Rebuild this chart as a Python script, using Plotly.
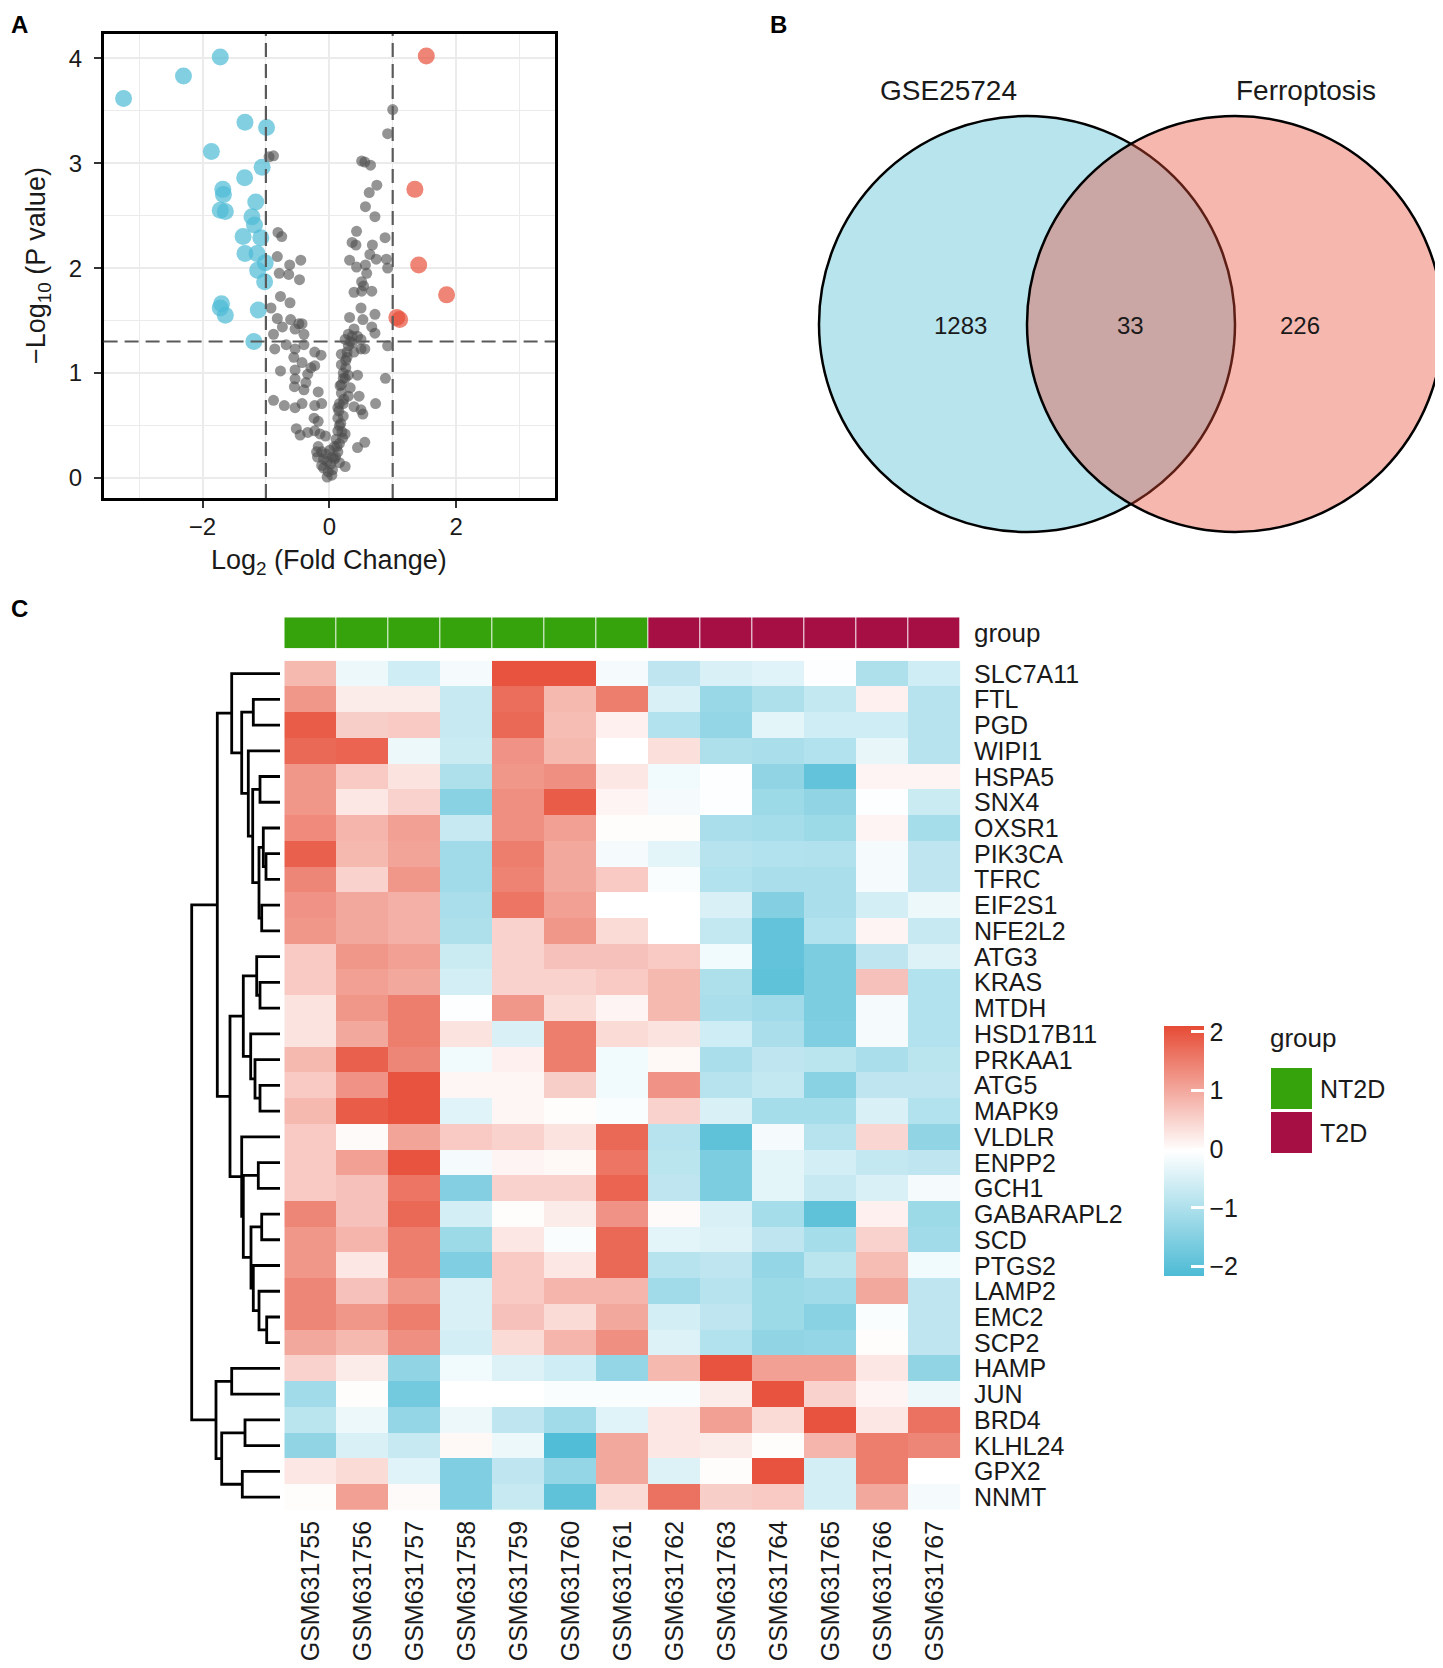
import plotly.graph_objects as go

# the page body keeps an 8px margin, so the figure is drawn 8px in from the corner
OFF = 8
FIG_W, FIG_H = 1443 - OFF, 1668 - OFF
FONT = "Liberation Sans, Arial, sans-serif"
INK = "#1a1a1a"


def fx(px):
    # screen pixel column -> paper x
    return (px - OFF) / FIG_W


def fy(py):
    # screen pixel row (from top) -> paper y
    return 1 - (py - OFF) / FIG_H


# ---------------- A: volcano data ----------------
down_x = [-3.245, -2.30, -1.72, -1.33, -0.99, -1.86, -1.06, -1.335, -1.68, -1.67, -1.72, -1.64, -1.16,
          -1.22, -1.18, -1.36, -1.08, -1.33, -1.14, -1.01, -1.13, -1.02, -1.70, -1.72, -1.64, -1.12, -1.19]
down_y = [3.615, 3.83, 4.01, 3.39, 3.34, 3.11, 2.96, 2.86, 2.75, 2.70, 2.55, 2.54, 2.63,
          2.49, 2.41, 2.30, 2.29, 2.14, 2.14, 2.05, 1.98, 1.87, 1.66, 1.62, 1.55, 1.60, 1.30]
up_x = [1.53, 1.35, 1.41, 1.85, 1.065, 1.11]
up_y = [4.02, 2.75, 2.03, 1.745, 1.53, 1.51]
ns_x = [1.0, 0.92, -0.95, -0.88, 0.51, 0.56, 0.65, 0.75, 0.63, 0.57, 0.72, -0.81, -0.75, 0.43, 0.36,
        0.42, 0.68, 0.88, 0.64, 0.74, 0.90, -0.82, -0.45, -0.625, 0.32, 0.43, 0.57, 0.92, -0.79, -0.64,
        -0.47, 0.59, 0.51, 0.54, 0.39, 0.51, 0.67, -0.77, -0.62, -0.92, 0.50, -0.82, -0.61, -0.48, -0.43,
        -0.74, -0.54, -0.88, -0.40, 0.32, 0.53, 0.72, 0.67, 0.72, 0.39, 0.30, 0.445, 0.25, 0.36, 0.50,
        0.92, -0.86, -0.68, -0.54, -0.40, -0.23, -0.13, 0.19, 0.28, 0.39, 0.50, 0.56, -0.56, -0.43, -0.29,
        -0.23, -0.77, -0.54, -0.34, 0.19, 0.26, 0.22, 0.30, 0.22, 0.19, 0.445, 0.885, -0.54, -0.37, -0.55,
        -0.40, -0.175, 0.33, -0.88, -0.71, -0.54, -0.43, -0.23, -0.12, 0.16, 0.30, 0.47, 0.73, 0.39, 0.50,
        0.53, 0.15, 0.135, 0.16, 0.22, -0.24, -0.175, -0.52, -0.46, -0.34, -0.23, -0.146, -0.06, 0.135, 0.25,
        0.107, 0.08, 0.135, 0.56, 0.445, -0.175, -0.12, -0.186, -0.09, -0.034, 0.02, 0.08, 0.16, 0.25, -0.09,
        -0.017, 0.04, -0.034, 0.05, -0.05, 0.006, 0.16, 0.21, 0.135, 0.22, 0.19, 0.25, 0.28, 0.30, 0.18,
        0.20, 0.12, 0.10, 0.23, 0.17, 0.26, 0.33, 0.36, -0.20, -0.12, 0.05]
ns_y = [3.51, 3.28, 3.06, 3.07, 3.02, 3.01, 2.98, 2.79, 2.72, 2.585, 2.49, 2.34, 2.30, 2.35, 2.245,
        2.22, 2.22, 2.29, 2.13, 2.085, 2.085, 2.11, 2.075, 2.03, 2.075, 2.01, 2.03, 2.00, 1.95, 1.94,
        1.89, 1.95, 1.87, 1.83, 1.77, 1.78, 1.78, 1.73, 1.67, 1.62, 1.62, 1.52, 1.51, 1.47, 1.47,
        1.44, 1.42, 1.37, 1.37, 1.53, 1.51, 1.56, 1.44, 1.38, 1.42, 1.37, 1.35, 1.32, 1.29, 1.32,
        1.26, 1.23, 1.27, 1.23, 1.27, 1.20, 1.17, 1.18, 1.20, 1.20, 1.23, 1.23, 1.15, 1.10, 1.05,
        1.07, 1.02, 1.03, 0.99, 1.08, 1.05, 1.00, 0.98, 0.95, 0.89, 0.98, 0.95, 0.945, 0.91, 0.87,
        0.84, 0.82, 0.86, 0.74, 0.69, 0.67, 0.71, 0.69, 0.71, 0.71, 0.78, 0.78, 0.71, 0.68, 0.65,
        0.61, 0.64, 0.57, 0.50, 0.59, 0.57, 0.54, 0.47, 0.41, 0.435, 0.45, 0.42, 0.40, 0.45, 0.42,
        0.37, 0.30, 0.25, 0.34, 0.29, 0.30, 0.25, 0.20, 0.18, 0.16, 0.13, 0.18, 0.146, 0.11, 0.095,
        0.06, 0.027, 0.01, 0.078, 0.23, 0.265, 0.33, 0.38, 0.67, 0.71, 0.81, 0.95, 1.15, 1.26, 0.52,
        0.44, 0.30, 0.20, 0.75, 0.88, 1.12, 1.30, 1.35, 0.25, 0.12, 0.20]
fc_cut = 1.0
p_cut = 1.301  # -log10(0.05)

# ---------------- B: venn data ----------------
venn_sets = ["GSE25724", "Ferroptosis"]
venn_counts = [1283, 33, 226]  # only left, shared, only right

# ---------------- C: heatmap data ----------------
samples = ["GSM631755", "GSM631756", "GSM631757", "GSM631758", "GSM631759", "GSM631760", "GSM631761",
           "GSM631762", "GSM631763", "GSM631764", "GSM631765", "GSM631766", "GSM631767"]
sample_group = ["NT2D"] * 7 + ["T2D"] * 6
genes = ["SLC7A11", "FTL", "PGD", "WIPI1", "HSPA5", "SNX4", "OXSR1", "PIK3CA", "TFRC", "EIF2S1",
         "NFE2L2", "ATG3", "KRAS", "MTDH", "HSD17B11", "PRKAA1", "ATG5", "MAPK9", "VLDLR", "ENPP2",
         "GCH1", "GABARAPL2", "SCD", "PTGS2", "LAMP2", "EMC2", "SCP2", "HAMP", "JUN", "BRD4",
         "KLHL24", "GPX2", "NNMT"]
expr_values = [
    [0.8, -0.25, -0.6, -0.15, 2.0, 2.0, -0.15, -0.8, -0.5, -0.4, -0.05, -1.0, -0.6],
    [1.2, 0.2, 0.2, -0.7, 1.7, 0.8, 1.5, -0.5, -1.25, -1.0, -0.75, 0.15, -0.9],
    [1.9, 0.55, 0.6, -0.7, 1.75, 0.75, 0.15, -0.95, -1.3, -0.35, -0.6, -0.6, -0.9],
    [1.75, 1.8, -0.25, -0.65, 1.25, 0.8, -0.03, 0.35, -1.0, -1.05, -0.95, -0.3, -0.9],
    [1.2, 0.6, 0.3, -1.0, 1.2, 1.3, 0.25, -0.2, -0.05, -1.35, -1.9, 0.1, 0.1],
    [1.2, 0.25, 0.5, -1.45, 1.3, 1.9, 0.1, -0.15, -0.05, -1.2, -1.35, -0.05, -0.65],
    [1.35, 0.85, 1.1, -0.7, 1.3, 1.1, 0.0, 0.0, -1.05, -1.1, -1.2, 0.1, -1.1],
    [1.85, 0.8, 1.05, -1.15, 1.5, 1.0, -0.15, -0.35, -0.9, -0.95, -0.97, -0.15, -0.8],
    [1.4, 0.5, 1.2, -1.15, 1.45, 1.0, 0.6, -0.1, -0.95, -1.05, -1.05, -0.15, -0.8],
    [1.25, 1.0, 0.9, -1.05, 1.6, 1.1, -0.03, -0.03, -0.5, -1.5, -1.05, -0.55, -0.25],
    [1.2, 1.0, 0.9, -1.0, 0.5, 1.2, 0.4, -0.03, -0.75, -1.9, -0.95, 0.1, -0.7],
    [0.6, 1.2, 1.1, -0.65, 0.5, 0.7, 0.7, 0.6, -0.2, -1.9, -1.6, -0.8, -0.45],
    [0.6, 1.1, 1.0, -0.55, 0.5, 0.5, 0.6, 0.8, -1.0, -1.95, -1.6, 0.7, -0.95],
    [0.3, 1.2, 1.5, -0.05, 1.2, 0.4, 0.1, 0.8, -1.05, -1.15, -1.6, -0.15, -0.95],
    [0.3, 1.0, 1.5, 0.3, -0.5, 1.5, 0.4, 0.3, -0.6, -1.05, -1.55, -0.15, -0.95],
    [0.8, 1.85, 1.4, -0.2, 0.15, 1.5, -0.2, 0.05, -1.05, -0.8, -0.85, -1.05, -0.85],
    [0.6, 1.25, 2.0, 0.08, 0.08, 0.55, -0.2, 1.25, -0.9, -0.75, -1.45, -0.8, -0.8],
    [0.8, 1.9, 2.0, -0.4, 0.08, 0.0, -0.1, 0.5, -0.5, -1.1, -1.1, -0.5, -0.95],
    [0.6, 0.03, 1.05, 0.6, 0.5, 0.3, 1.75, -0.9, -1.95, -0.15, -0.9, 0.45, -1.35],
    [0.6, 1.1, 2.0, -0.15, 0.1, 0.05, 1.6, -0.85, -1.6, -0.35, -0.55, -0.75, -0.8],
    [0.6, 0.7, 1.6, -1.5, 0.5, 0.5, 1.8, -0.8, -1.6, -0.35, -0.7, -0.5, -0.15],
    [1.4, 0.7, 1.75, -0.55, 0.0, 0.2, 1.25, 0.03, -0.5, -1.1, -1.95, 0.15, -1.2],
    [1.2, 0.85, 1.5, -1.2, 0.25, -0.1, 1.75, -0.35, -0.45, -0.8, -1.1, 0.5, -1.15],
    [1.2, 0.25, 1.5, -1.55, 0.6, 0.25, 1.75, -0.9, -0.8, -1.3, -0.85, 0.75, -0.2],
    [1.4, 0.7, 1.2, -0.5, 0.6, 0.85, 0.85, -1.15, -0.9, -1.2, -1.15, 1.0, -0.8],
    [1.4, 1.2, 1.5, -0.5, 0.7, 0.4, 1.0, -0.55, -0.8, -1.2, -1.45, -0.1, -0.8],
    [1.0, 0.8, 1.3, -0.55, 0.4, 0.85, 1.3, -0.45, -0.95, -1.35, -1.3, 0.0, -0.8],
    [0.5, 0.2, -1.35, -0.2, -0.45, -0.6, -1.3, 0.8, 2.0, 1.1, 1.1, 0.25, -1.35],
    [-1.15, 0.0, -1.7, -0.03, -0.03, -0.1, -0.1, -0.1, 0.2, 2.0, 0.5, 0.1, -0.25],
    [-0.85, -0.25, -1.3, -0.25, -0.8, -1.15, -0.4, 0.25, 1.1, 0.4, 2.0, 0.25, 1.65],
    [-1.35, -0.5, -0.7, 0.05, -0.25, -2.1, 1.0, 0.25, 0.2, 0.0, 0.85, 1.5, 1.4],
    [0.25, 0.4, -0.4, -1.55, -0.8, -1.3, 1.0, -0.45, 0.0, 2.0, -0.55, 1.5, -0.03],
    [0.0, 1.1, 0.03, -1.55, -0.7, -1.95, 0.4, 1.65, 0.55, 0.6, -0.55, 1.0, -0.15],
]
z_lo, z_hi = -2.16, 2.1
colorbar_ticks = [-2, -1, 0, 1, 2]

# row clustering: (node, left child, right child, merge height)
row_merges = [
    ("FP", "FTL", "PGD", 26.7), ("HS", "HSPA5", "SNX4", 20.0), ("PT", "PIK3CA", "TFRC", 14.0),
    ("OPT", "OXSR1", "PT", 16.7), ("EN", "EIF2S1", "NFE2L2", 18.3), ("X3", "OPT", "EN", 21.0),
    ("X2", "HS", "X3", 27.3), ("X1", "WIPI1", "X2", 31.7), ("X0", "FP", "X1", 38.3),
    ("A", "SLC7A11", "X0", 48.3), ("KM", "KRAS", "MTDH", 20.0), ("AKM", "ATG3", "KM", 23.3),
    ("AM", "ATG5", "MAPK9", 20.0), ("PAM", "PRKAA1", "AM", 25.0), ("HPAM", "HSD17B11", "PAM", 29.3),
    ("K", "AKM", "HPAM", 36.7), ("EG", "ENPP2", "GCH1", 21.7), ("GS", "GABARAPL2", "SCD", 18.3),
    ("ES", "EMC2", "SCP2", 13.3), ("H3", "LAMP2", "ES", 21.0), ("H2", "PTGS2", "H3", 26.7),
    ("H", "GS", "H2", 29.0), ("L2", "EG", "H", 36.7), ("L", "VLDLR", "L2", 38.3),
    ("M", "K", "L", 50.0), ("T", "A", "M", 62.7), ("HJ", "HAMP", "JUN", 48.3),
    ("BK", "BRD4", "KLHL24", 35.0), ("GN", "GPX2", "NNMT", 37.7), ("P", "BK", "GN", 58.3),
    ("Q", "HJ", "P", 64.0), ("ROOT", "T", "Q", 88.3),
]

group_colors = {"NT2D": "#36A30C", "T2D": "#A50F44"}
heat_scale = [[0, "#4DBBD5"], [0.5, "#FFFFFF"], [1, "#E64B35"]]

fig = go.Figure()

# ---- volcano points
for xs, ys, col, size, alpha in [(ns_x, ns_y, "#4D4D4D", 11, 0.6), (down_x, down_y, "#4DBBD5", 17, 0.7),
                                 (up_x, up_y, "#E64B35", 17, 0.68)]:
    fig.add_trace(go.Scatter(
        x=xs, y=ys, mode="markers", xaxis="x", yaxis="y", hoverinfo="skip",
        marker=dict(size=size, color=col, opacity=alpha, line=dict(width=0)),
    ))

# ---- heatmap body
n_rows, n_cols = len(genes), len(samples)
fig.add_trace(go.Heatmap(
    z=expr_values, x=list(range(n_cols)), y=list(range(n_rows)),
    xaxis="x3", yaxis="y3", colorscale=heat_scale, zmin=z_lo, zmax=z_hi,
    hoverinfo="skip",
    colorbar=dict(
        x=fx(1164), xanchor="left", y=fy(1151), yanchor="middle",
        len=250, lenmode="pixels", thickness=40, thicknessmode="pixels",
        outlinewidth=0, xpad=0, ypad=0,
        tickvals=colorbar_ticks, ticktext=[str(t).replace("-", "\u2212") for t in colorbar_ticks],
        ticks="inside", ticklen=13, tickwidth=2.5, tickcolor="white",
        tickfont=dict(size=25, family=FONT, color=INK),
    ),
))

# ---- group annotation bar
group_codes = [0 if g == "NT2D" else 1 for g in sample_group]
fig.add_trace(go.Heatmap(
    z=[group_codes], x=list(range(n_cols)), y=[0], xaxis="x3", yaxis="y4",
    colorscale=[[0, group_colors["NT2D"]], [0.5, group_colors["NT2D"]],
                [0.5, group_colors["T2D"]], [1, group_colors["T2D"]]],
    zmin=0, zmax=1, showscale=False, hoverinfo="skip", xgap=1,
))

# ---- row dendrogram
node_y = {g: i for i, g in enumerate(genes)}
node_h = {g: 0.0 for g in genes}
dx, dy = [], []
for name, a, b, h in row_merges:
    dx += [node_h[a], h, h, node_h[b], None]
    dy += [node_y[a], node_y[a], node_y[b], node_y[b], None]
    node_y[name] = (node_y[a] + node_y[b]) / 2
    node_h[name] = h
fig.add_trace(go.Scatter(x=dx, y=dy, mode="lines", xaxis="x5", yaxis="y3", hoverinfo="skip",
                         line=dict(color="black", width=2.8)))

shapes = []
annotations = []


def label(text, x, y, size, xref="paper", yref="paper", xanchor="center", yanchor="middle", **kw):
    annotations.append(dict(text=text, x=x, y=y, xref=xref, yref=yref, xanchor=xanchor,
                            yanchor=yanchor, showarrow=False,
                            font=dict(size=size, family=FONT, color=kw.pop("color", INK)), **kw))


# ---- volcano threshold lines
dash = "14px,7px"
for v in (-fc_cut, fc_cut):
    shapes.append(dict(type="line", xref="x", yref="y domain", x0=v, x1=v, y0=0, y1=1,
                       line=dict(color="#5a5a5a", width=2.2, dash=dash), layer="above"))
shapes.append(dict(type="line", xref="x domain", yref="y", x0=0, x1=1, y0=p_cut, y1=p_cut,
                   line=dict(color="#5a5a5a", width=2.2, dash=dash), layer="above"))

# ---- venn circles (x2/y2 are laid out in pixel units, so circles stay round)
venn_r = 208
venn_cy = 324
venn_cx = [1027, 1027 + venn_r]
venn_fill = ["rgba(77,187,213,0.4)", "rgba(230,75,53,0.4)"]
for cx, fill in zip(venn_cx, venn_fill):
    shapes.append(dict(type="circle", xref="x2", yref="y2", x0=cx - venn_r, x1=cx + venn_r,
                       y0=venn_cy - venn_r, y1=venn_cy + venn_r, fillcolor=fill,
                       line=dict(color="black", width=2.5)))
for name, lx in zip(venn_sets, [948, 1306]):
    label(name, lx, 90, 28, xref="x2", yref="y2")
for cnt, lx in zip(venn_counts, [960, 1130, 1300]):
    label(str(cnt), lx, venn_cy + 1, 24, xref="x2", yref="y2")

# ---- heatmap labels
for i, g in enumerate(genes):
    label(g, fx(972), i, 25, yref="y3", xanchor="left")
for j, s in enumerate(samples):
    label(s, j, fy(1519), 25, xref="x3", yanchor="top", textangle=-90)
label("group", fx(972), fy(633), 26, xanchor="left")

# ---- group legend
label("group", fx(1268), fy(1038), 26, xanchor="left")
for k, g in enumerate(["NT2D", "T2D"]):
    top = 1068 + k * 44
    shapes.append(dict(type="rect", xref="paper", yref="paper", x0=fx(1271), x1=fx(1312),
                       y0=fy(top + 41), y1=fy(top), fillcolor=group_colors[g], line=dict(width=0)))
    label(g, fx(1318), fy(top + 21), 25, xanchor="left")

# ---- volcano axis titles
label("Log<sub>2</sub> (Fold Change)", fx(329), fy(562), 27)
label("\u2212Log<sub>10</sub> (P value)", fx(38), fy(266), 27, textangle=-90)

# ---- panel letters (kept just inside the drawable area)
for letter, lx, ly in [("A", 9, 9), ("B", 768, 9), ("C", 9, 593)]:
    label("<b>%s</b>" % letter, fx(lx), fy(ly), 24, xanchor="left", yanchor="top", color="black")

hidden = dict(visible=False, showgrid=False, zeroline=False)
grid_col = "#EBEBEB"
tick_font = dict(size=24, family=FONT, color=INK)

fig.update_layout(
    width=FIG_W, height=FIG_H,
    margin=dict(l=0, r=0, t=0, b=0),
    paper_bgcolor="white", plot_bgcolor="white",
    showlegend=False,
    font=dict(family=FONT, color=INK),
    xaxis=dict(
        domain=[fx(103.6), fx(555)], range=[-3.56, 3.56], anchor="y",
        tickvals=[-2, 0, 2], ticktext=["\u22122", "0", "2"],
        showgrid=True, gridcolor=grid_col, gridwidth=2.2, zeroline=False,
        minor=dict(tickvals=[-3, -1, 1, 3], showgrid=True, gridcolor=grid_col, gridwidth=1.1),
        showline=True, mirror=True, linecolor="black", linewidth=2.5,
        ticks="outside", ticklen=7, tickwidth=2, tickcolor="#333333",
        ticklabelstandoff=-2, tickfont=tick_font,
    ),
    yaxis=dict(
        domain=[fy(498), fy(34)], range=[-0.19, 4.23], anchor="x",
        tickvals=[0, 1, 2, 3, 4],
        showgrid=True, gridcolor=grid_col, gridwidth=2.2, zeroline=False,
        minor=dict(tickvals=[0.5, 1.5, 2.5, 3.5], showgrid=True, gridcolor=grid_col, gridwidth=1.1),
        showline=True, mirror=True, linecolor="black", linewidth=2.5,
        ticks="outside", ticklen=7, tickwidth=2, tickcolor="#333333",
        ticklabelstandoff=7, tickfont=tick_font,
    ),
    xaxis2=dict(domain=[fx(600), 1.0], range=[600, 1443], anchor="y2", **hidden),
    yaxis2=dict(domain=[fy(560), 1.0], range=[560, OFF], anchor="x2", **hidden),
    xaxis3=dict(domain=[fx(284.3), fx(960.3)], range=[-0.5, n_cols - 0.5], anchor="y3", **hidden),
    yaxis3=dict(domain=[fy(1510), fy(660.7)], range=[n_rows - 0.5, -0.5], anchor="x3", **hidden),
    yaxis4=dict(domain=[fy(648.3), fy(617.3)], range=[-0.5, 0.5], anchor="x3", **hidden),
    xaxis5=dict(domain=[fx(180), fx(280)], range=[100, 0], anchor="y3", **hidden),
    shapes=shapes,
    annotations=annotations,
)

fig.write_html("out.html")
